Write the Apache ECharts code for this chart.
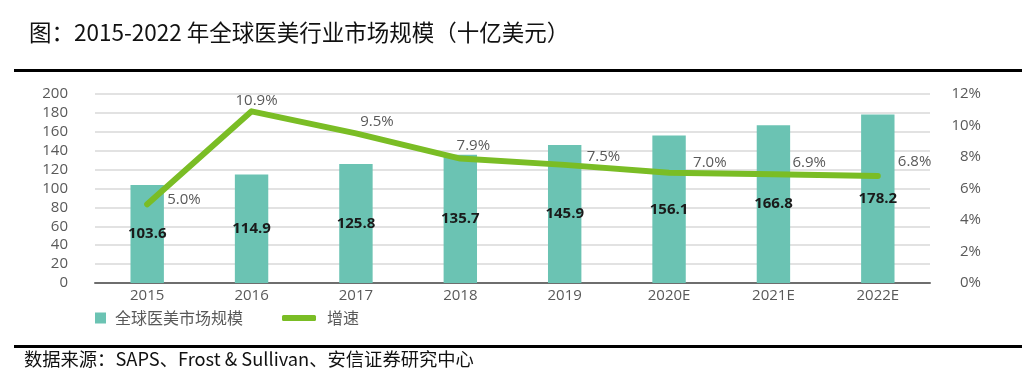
<!DOCTYPE html>
<html><head><meta charset="utf-8">
<script src="https://cdn.jsdelivr.net/npm/echarts@6/dist/echarts.min.js"></script>
<style>html,body{margin:0;padding:0;background:#fff}#c{width:1035px;height:380px}</style>
</head><body><div id="c"></div>
<script>
var categories = ['2015','2016','2017','2018','2019','2020E','2021E','2022E'];
var marketSize = [103.6,114.9,125.8,135.7,145.9,156.1,166.8,178.2];
var growth = [5.0,10.9,9.5,7.9,7.5,7.0,6.9,6.8];
var leftTicks = [0,20,40,60,80,100,120,140,160,180,200];
var rightTicks = [0,2,4,6,8,10,12];
var titleText = '图：2015-2022 年全球医美行业市场规模（十亿美元）';
var sourceText = '数据来源：SAPS、Frost & Sullivan、安信证券研究中心';
var barName = '全球医美市场规模';
var lineName = '增速';

var labelPos = [
  {align:'left', offset:[20,-5]},
  {align:'center', offset:[5,-11]},
  {align:'center', offset:[21,-12]},
  {align:'center', offset:[13,-13]},
  {align:'left', offset:[22,-8]},
  {align:'left', offset:[24,-10]},
  {align:'left', offset:[19,-12]},
  {align:'left', offset:[20,-14]}
];
var FONT = '"Open Sans","Noto Sans CJK SC",sans-serif';
var CJK = '"Noto Sans CJK SC",sans-serif';
var chart = echarts.init(document.getElementById('c'));
chart.setOption({
  animation:false,
  textStyle:{fontFamily:FONT},
  title:{text:titleText,left:24,top:16,textStyle:{fontFamily:CJK,fontSize:22.5,fontWeight:'normal',color:'#111'}},
  graphic:[
    {type:'rect',shape:{x:14,y:69,width:1008,height:3},style:{fill:'#000'}},
    {type:'rect',shape:{x:14,y:345,width:1008,height:3},style:{fill:'#000'}},
    {type:'text',left:24,top:350,style:{text:sourceText,font:'18.3px "Noto Sans CJK SC",sans-serif',fill:'#111'}}
  ],
  legend:[
    {data:[barName],left:95,top:310,padding:0,icon:'rect',itemWidth:11,itemHeight:11,itemGap:10,
      textStyle:{fontFamily:CJK,fontSize:16,color:'#595959',padding:[0,0,0,4]}},
    {data:[lineName],left:282,top:310,padding:0,icon:'roundRect',itemWidth:34,itemHeight:6,
      textStyle:{fontFamily:CJK,fontSize:16,color:'#595959',padding:[0,0,0,6]}}
  ],
  grid:{left:95,right:105,top:94,bottom:97},
  xAxis:{type:'category',data:categories,
    axisLine:{lineStyle:{color:'#6e6e6e',width:2}},axisTick:{show:false},
    axisLabel:{color:'#595959',fontSize:15,margin:5}},
  yAxis:[
    {type:'value',min:0,max:200,interval:20,
      axisLabel:{color:'#595959',fontSize:15,margin:27},
      axisLine:{show:false},axisTick:{show:false},
      splitLine:{lineStyle:{color:'#d9d9d9',width:1.5}}},
    {type:'value',min:0,max:12,interval:2,
      axisLabel:{color:'#595959',fontSize:15,margin:51,align:'right',formatter:function(v){return v+'%';}},
      axisLine:{show:false},axisTick:{show:false},splitLine:{show:false}}
  ],
  series:[
    {name:barName,type:'bar',data:marketSize,barWidth:'32%',
      itemStyle:{color:'#6bc3b3'},
      label:{show:true,position:'inside',color:'#1a1a1a',fontWeight:'bold',fontSize:15,fontFamily:FONT}},
    {name:lineName,type:'line',yAxisIndex:1,symbol:'circle',symbolSize:1,showSymbol:true,
      data:growth.map(function(v,i){return {value:v,label:labelPos[i]};}),
      lineStyle:{color:'#7abd25',width:6,cap:'round',join:'round'},
      itemStyle:{color:'#7abd25'},
      label:{show:true,position:'inside',verticalAlign:'middle',color:'#595959',fontSize:15,fontFamily:FONT,formatter:function(p){return p.value.toFixed(1)+'%';}}}
  ]
});
</script></body></html>
